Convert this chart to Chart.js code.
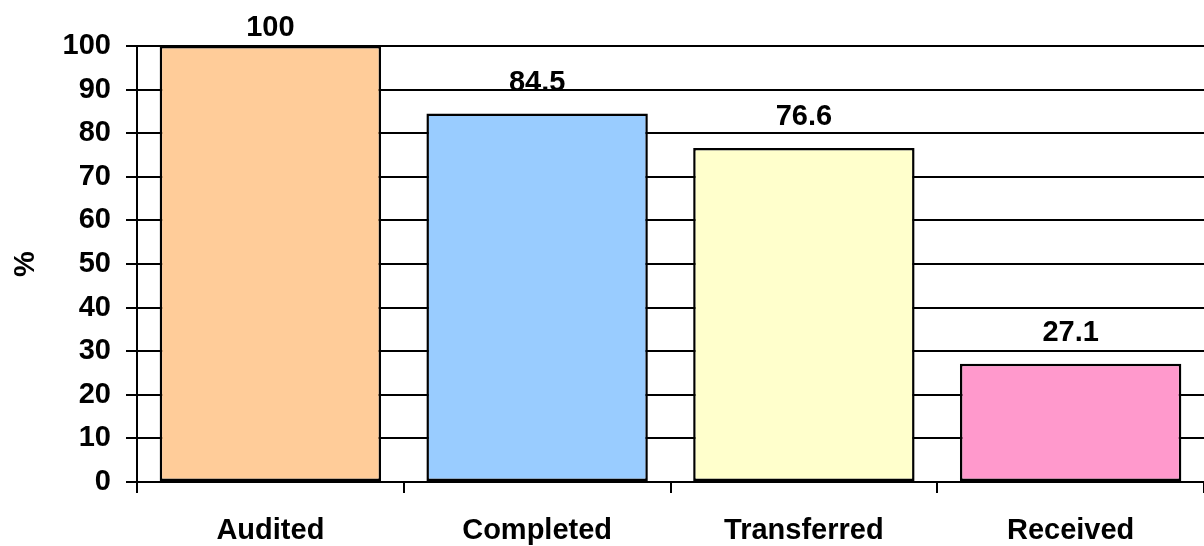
<!DOCTYPE html>
<html>
<head>
<meta charset="utf-8">
<script src="https://cdn.jsdelivr.net/npm/chart.js@4/dist/chart.umd.min.js"></script>
<style>
  html, body { margin: 0; padding: 0; background: #fff; }
  #wrap { width: 1204px; height: 546px; }
</style>
</head>
<body>
<div id="wrap"><canvas id="chart" width="1204" height="546"></canvas></div>
<script>
const categories = ['Audited', 'Completed', 'Transferred', 'Received']
const values = [100, 84.5, 76.6, 27.1]
const barColors = ['#FFCC99', '#99CCFF', '#FFFFCC', '#FF99CC']
const yTicks = [0, 10, 20, 30, 40, 50, 60, 70, 80, 90, 100]

const font = { family: '"Liberation Sans", Arial, sans-serif', size: 29, weight: 'bold' }

// value labels over each bar, kept inside the top of the canvas
const valueLabels = {
  id: 'valueLabels',
  afterDatasetsDraw(chart) {
    const ctx = chart.ctx
    const meta = chart.getDatasetMeta(0)
    ctx.save()
    ctx.font = 'bold 29px "Liberation Sans", Arial, sans-serif'
    ctx.fillStyle = '#000'
    ctx.textAlign = 'center'
    ctx.textBaseline = 'alphabetic'
    meta.data.forEach((bar, i) => {
      ctx.fillText(String(values[i]), bar.x, Math.max(bar.y - 23, 36))
    })
    ctx.restore()
  }
}

new Chart(document.getElementById('chart').getContext('2d'), {
  type: 'bar',
  data: {
    labels: categories,
    datasets: [{
      data: values,
      backgroundColor: barColors,
      borderColor: '#000',
      borderWidth: 2.5,
      borderSkipped: false,
      barPercentage: 0.83,
      categoryPercentage: 1
    }]
  },
  options: {
    responsive: false,
    animation: false,
    layout: { padding: { top: 46, right: 0, left: 0, bottom: 0 } },
    plugins: { legend: { display: false }, tooltip: { enabled: false } },
    scales: {
      x: {
        offset: true,
        grid: { display: true, drawOnChartArea: false, offset: true, color: '#000', lineWidth: 2, tickLength: 11 },
        border: { color: '#000', width: 2 },
        ticks: { color: '#000', font: font, padding: 21, maxRotation: 0 },
        afterFit(scale) { scale.height = 64 }
      },
      y: {
        min: 0,
        max: 100,
        afterBuildTicks(scale) { scale.ticks = yTicks.map(v => ({ value: v })) },
        grid: { color: '#000', lineWidth: 2, tickLength: 11 },
        border: { color: '#000', width: 2 },
        ticks: { color: '#000', font: font, padding: 15 },
        title: { display: true, text: '%', color: '#000', font: font, padding: { top: 9, bottom: 0 } },
        afterFit(scale) { scale.width = 137 }
      }
    }
  },
  plugins: [valueLabels]
})
</script>
</body>
</html>
